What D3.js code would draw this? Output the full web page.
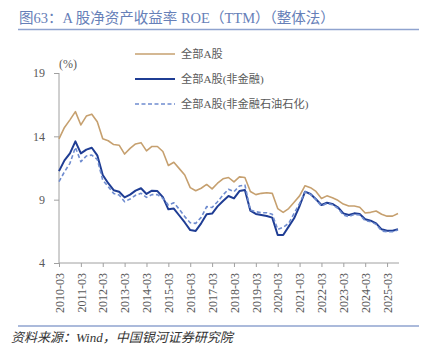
<!DOCTYPE html>
<html><head><meta charset="utf-8">
<script src="https://cdn.jsdelivr.net/npm/d3@7"></script>
<style>
html,body{margin:0;padding:0;background:#fff;}
svg{display:block;}
</style></head>
<body>
<svg id="c" width="433" height="360"></svg>
<script>
const dates = [
"2010-03","2010-06","2010-09","2010-12","2011-03","2011-06","2011-09","2011-12",
"2012-03","2012-06","2012-09","2012-12","2013-03","2013-06","2013-09","2013-12",
"2014-03","2014-06","2014-09","2014-12","2015-03","2015-06","2015-09","2015-12",
"2016-03","2016-06","2016-09","2016-12","2017-03","2017-06","2017-09","2017-12",
"2018-03","2018-06","2018-09","2018-12","2019-03","2019-06","2019-09","2019-12",
"2020-03","2020-06","2020-09","2020-12","2021-03","2021-06","2021-09","2021-12",
"2022-03","2022-06","2022-09","2022-12","2023-03","2023-06","2023-09","2023-12",
"2024-03","2024-06","2024-09","2024-12","2025-03","2025-06","2025-09"];
const allA = [
13.8,14.7,15.3,15.95, 14.9,15.6,15.75,15.15, 13.8,13.65,13.35,13.3, 12.6,13.05,13.4,13.5,
12.85,13.2,13.2,12.8, 11.7,11.95,11.45,10.95, 9.95,9.7,9.9,10.2, 9.85,10.3,10.65,10.75,
10.4,10.8,10.75,9.65, 9.4,9.5,9.55,9.5, 8.3,8.0,8.3,8.8, 9.3,10.1,9.95,9.65,
9.1,9.3,9.15,8.95, 8.65,8.5,8.5,8.4, 7.95,8.0,8.1,7.85, 7.7,7.7,7.9];
const nonFin = [
11.25,12.1,12.65,13.6, 12.65,12.95,13.1,12.5, 10.95,10.3,9.75,9.63, 9.18,9.4,9.71,9.9,
9.45,9.71,9.68,9.2, 8.24,8.3,7.75,7.2, 6.6,6.53,7.13,7.85, 7.9,8.47,8.9,9.29,
9.1,9.68,9.76,8.13, 7.87,7.79,7.71,7.58, 6.21,6.21,6.87,7.53, 8.5,9.63,9.45,9.03,
8.58,8.76,8.66,8.4, 7.92,7.79,7.92,7.87, 7.45,7.34,7.13,6.66, 6.55,6.55,6.66];
const nonFinExOil = [
10.42,11.2,11.87,13.13, 12.0,12.45,12.52,12.18, 10.55,10.03,9.48,9.37, 8.84,9.05,9.35,9.5,
9.18,9.4,9.4,9.1, 8.58,8.76,8.24,7.66, 7.18,7.13,7.6,8.45, 8.38,8.84,9.37,9.82,
9.63,10.08,10.16,8.18, 8.05,7.97,7.97,7.85, 6.65,6.82,7.13,7.92, 8.71,9.63,9.42,9.0,
8.5,8.71,8.6,8.32, 7.79,7.66,7.84,7.79, 7.34,7.26,7.05,6.53, 6.47,6.47,6.6];
const yTicks = [4, 9, 14, 19];
const xTickLabels = ["2010-03","2011-03","2012-03","2013-03","2014-03","2015-03","2016-03","2017-03",
"2018-03","2019-03","2020-03","2021-03","2022-03","2023-03","2024-03","2025-03"];
const seriesNames = ["全部A股","全部A股(非金融)","全部A股(非金融石油石化)"];
const title = "图63：A 股净资产收益率 ROE（TTM）（整体法）";
const source = "资料来源：Wind，中国银河证券研究院";

const svg = d3.select("#c");
const serif = "'Liberation Serif','DejaVu Serif','Noto Sans CJK SC',serif";
const frameColor = "#8fa3cf";

// title
svg.append("text").attr("x",19).attr("y",23).attr("font-family",serif)
  .attr("font-size","14.5px").attr("fill","#6680b8").text(title);
svg.append("line").attr("x1",18).attr("x2",419).attr("y1",29.5).attr("y2",29.5)
  .attr("stroke",frameColor).attr("stroke-width",1.5);

const x = d3.scalePoint().domain(dates).range([59, 398]);
const y = d3.scaleLinear().domain([4,19]).range([263,73]);

// y axis
const gy = svg.append("g").attr("transform","translate(59,0)")
  .call(d3.axisLeft(y).tickValues(yTicks).tickSize(5).tickPadding(9).tickFormat(d3.format("d")));
gy.select(".domain").attr("stroke","#a0a0a0").attr("d","M0,73V263");
gy.selectAll(".tick line").attr("stroke","#a0a0a0");
gy.selectAll(".tick text").attr("font-family",serif).attr("font-size","12px").attr("fill","#595959");

// x axis
const gx = svg.append("g").attr("transform","translate(0,263)")
  .call(d3.axisBottom(x).tickValues(xTickLabels).tickSize(4).tickSizeOuter(0));
gx.select(".domain").attr("stroke","#a0a0a0").attr("d","M59,0H399");
gx.selectAll(".tick line").attr("stroke","#a0a0a0");
gx.selectAll(".tick text").attr("font-family",serif).attr("font-size","12px").attr("fill","#595959")
  .attr("text-anchor","end").attr("dy","0.35em").attr("y",0)
  .attr("transform","translate(0,10) rotate(-90)");

// unit
svg.append("text").attr("x",59).attr("y",68).attr("font-family",serif)
  .attr("font-size","12px").attr("fill","#595959").text("(%)");

const line = d3.line().x((d,i)=>x(dates[i])).y(d=>y(d));
const styles = [
  {data: allA, color:"#c6a06f", w:1.6, dash:null},
  {data: nonFin, color:"#1f3d94", w:2, dash:null},
  {data: nonFinExOil, color:"#6f8ccf", w:1.6, dash:"4,2.5"}
];
styles.forEach(s=>{
  svg.append("path").datum(s.data).attr("d",line).attr("fill","none")
    .attr("stroke",s.color).attr("stroke-width",s.w).attr("stroke-dasharray",s.dash)
    .attr("stroke-linejoin","round");
});

// legend
const legY = [54, 79, 104];
styles.forEach((s,i)=>{
  svg.append("line").attr("x1",135).attr("x2",175).attr("y1",legY[i]).attr("y2",legY[i])
    .attr("stroke",s.color).attr("stroke-width",s.w).attr("stroke-dasharray",s.dash);
  svg.append("text").attr("x",181).attr("y",legY[i]).attr("dy","0.35em")
    .attr("font-family",serif).attr("font-size","11.2px").attr("fill","#595959").text(seriesNames[i]);
});

// bottom
svg.append("line").attr("x1",18).attr("x2",419).attr("y1",326).attr("y2",326)
  .attr("stroke",frameColor).attr("stroke-width",1.5);
svg.append("text").attr("x",11).attr("y",342).attr("font-family",serif).attr("font-style","italic")
  .attr("font-size","13px").attr("fill","#333").text(source);
</script>
</body></html>
